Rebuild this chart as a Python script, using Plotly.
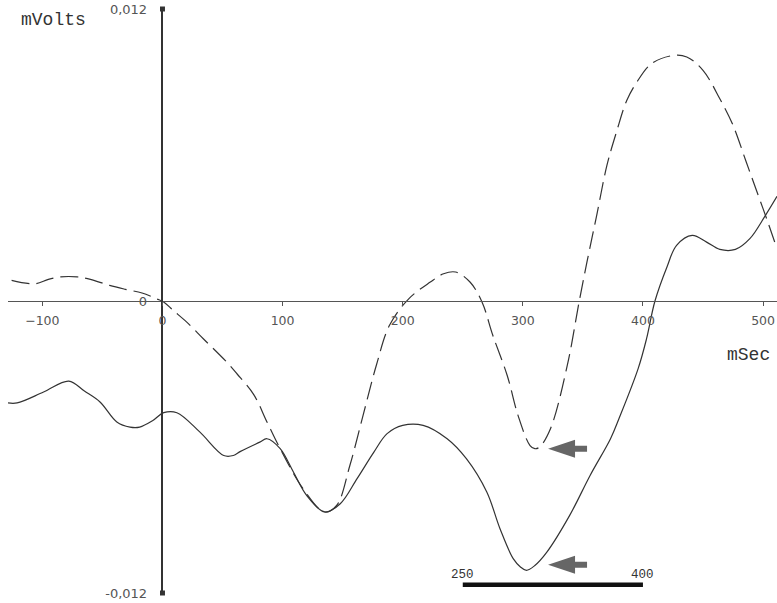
import plotly.graph_objects as go

# ---- data (ms, mV) ----
solid_ms = [-128.6, -121, -99, -78, -65, -52, -38, -27, -19, -8, 1, 12, 31, 51, 59, 65, 81, 87,
            98, 109, 120, 135, 148, 162, 176, 187, 200, 217, 237, 253, 270, 281, 292, 298, 303,
            310, 320, 339, 356, 373, 380, 396, 403, 410, 420, 428, 441, 453, 464, 477, 489, 502, 511.6]
solid_mv = [-4.19, -4.19, -3.74, -3.29, -3.70, -4.15, -4.97, -5.18, -5.18, -4.91, -4.59, -4.59, -5.38,
            -6.35, -6.35, -6.18, -5.80, -5.66, -6.07, -7.03, -7.99, -8.67, -8.33, -7.30, -6.21, -5.45,
            -5.11, -5.11, -5.66, -6.48, -7.85, -9.36, -10.59, -10.93, -11.07, -10.87, -10.32, -8.81,
            -7.17, -5.66, -4.84, -2.78, -1.55, 0.0, 1.40, 2.29, 2.70, 2.42, 2.12, 2.12, 2.56, 3.52, 4.30]

dashed_ms = [-125.6, -106, -95, -85, -71, -60, -44, -31, -17, -5, 1, 9, 20, 34, 53.5, 62, 76, 87,
             98, 117, 135, 145, 156, 167, 178, 189, 205, 223, 234, 244, 256, 266, 275, 287, 296,
             306, 310, 314, 323, 337, 347, 354.5, 361.5, 370, 378, 386.5, 395, 407, 425, 436.5,
             450, 464, 475, 486, 496, 503, 511.6]
dashed_mv = [0.85, 0.71, 0.89, 0.99, 0.99, 0.89, 0.64, 0.48, 0.33, 0.09, -0.04, -0.39, -0.86, -1.55,
             -2.51, -2.99, -3.85, -4.97, -6.07, -7.71, -8.67, -8.40, -6.76, -4.70, -2.65, -1.00, 0.09,
             0.78, 1.12, 1.19, 0.78, -0.04, -1.41, -3.06, -4.70, -5.94, -6.07, -6.00, -5.25, -2.65,
             0.0, 1.87, 3.52, 5.57, 6.95, 8.24, 9.00, 9.75, 10.09, 10.03, 9.48, 8.31, 7.22, 5.71,
             4.34, 3.38, 2.15]

x_ticks = [-100, 0, 100, 200, 300, 400, 500]
y_ticks = [-0.012, 0, 0.012]
y_tick_text = ["-0,012", "0", "0,012"]
x_range = [-128.6, 511.6]
y_range = [-0.012, 0.012]

window_ms = [250, 400]
window_y = -0.01166
window_label_y = -0.01117
arrow_tip_ms = [321, 321]
arrow_tip_mv = [-0.00607, -0.01084]

solid_v = [v / 1000 for v in solid_mv]
dashed_v = [v / 1000 for v in dashed_mv]

line_col = "#333333"
fig = go.Figure()
fig.add_trace(go.Scatter(x=solid_ms, y=solid_v, mode="lines",
                         line=dict(color=line_col, width=1.2), line_shape="spline",
                         hoverinfo="skip"))
fig.add_trace(go.Scatter(x=dashed_ms, y=dashed_v, mode="lines",
                         line=dict(color=line_col, width=1.2, dash="18px,7px"), line_shape="spline",
                         hoverinfo="skip"))
# end markers of the y axis
fig.add_trace(go.Scatter(x=[0, 0], y=[y_range[0], y_range[1]], mode="markers",
                         marker=dict(symbol="square", size=5, color="#333333"),
                         cliponaxis=False, hoverinfo="skip"))

ypos = (0 - x_range[0]) / (x_range[1] - x_range[0])

fig.update_layout(
    width=777, height=603,
    margin=dict(l=8, r=0, t=9, b=10, autoexpand=False),
    paper_bgcolor="white", plot_bgcolor="white",
    showlegend=False,
    xaxis=dict(range=x_range, anchor="free", position=0.5, automargin=False,
               showgrid=False, zeroline=False, showline=True,
               linecolor="#555555", linewidth=1,
               ticks="outside", ticklen=4, tickcolor="#555555",
               tickvals=x_ticks, ticklabelstandoff=4,
               tickfont=dict(family="DejaVu Sans", size=12.5, color="#555555")),
    yaxis=dict(range=y_range, anchor="free", position=ypos, automargin=False,
               showgrid=False, zeroline=False, showline=True,
               linecolor="#333333", linewidth=1.5,
               ticks="", tickvals=y_ticks, ticktext=y_tick_text,
               ticklabelstandoff=12,
               tickfont=dict(family="DejaVu Sans", size=13, color="#555555")),
)

# window bar
fig.add_shape(type="line", x0=window_ms[0], x1=window_ms[1], y0=window_y, y1=window_y,
              line=dict(color="#111111", width=4.5))
for ms in window_ms:
    fig.add_annotation(x=ms, y=window_label_y, text=str(ms), showarrow=False, yshift=-2,
                       font=dict(family="Liberation Mono", size=12.5, color="#333333"))

# arrows
for xa, ya in zip(arrow_tip_ms, arrow_tip_mv):
    fig.add_shape(type="path", xsizemode="pixel", ysizemode="pixel",
                  xanchor=xa, yanchor=ya,
                  path="M0,0 L27,9 L27,3 L39,3 L39,-3 L27,-3 L27,-9 Z",
                  fillcolor="#666666", line=dict(width=0))

fig.add_annotation(xref="paper", yref="paper", x=0.0, y=1.0, xanchor="left", yanchor="middle",
                   xshift=11, yshift=-11, text="mVolts", showarrow=False,
                   font=dict(family="Liberation Mono", size=18, color="#333333"))
fig.add_annotation(xref="paper", yref="y", x=1.0, y=-0.0021, xanchor="right", yanchor="middle",
                   xshift=-5, yshift=-3, text="mSec", showarrow=False,
                   font=dict(family="Liberation Mono", size=18, color="#333333"))

fig.write_html("out.html", config={"displayModeBar": False},
               post_script="document.body.style.margin='0';document.body.style.overflow='hidden';")
